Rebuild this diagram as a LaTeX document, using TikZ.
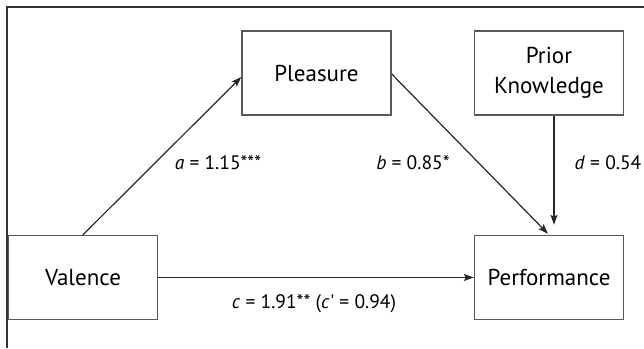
\documentclass[tikz,border=0pt]{standalone}
\usepackage{fontspec}
\setmainfont{PT Sans}
\usetikzlibrary{arrows.meta}
\begin{document}
\begin{tikzpicture}[x=1pt,y=-1pt,
  box/.style={draw=black!65, line width=1.4pt, minimum width=149pt, minimum height=84pt, inner sep=0pt, font=\fontsize{23}{30}\selectfont, align=center, text=black},
  conn/.style={draw=black!85, line width=1.2pt, -{Stealth[length=10pt,width=7pt,inset=2pt]}},
  lbl/.style={font=\fontsize{19.5}{22}\selectfont, text=black, inner sep=0pt},
  frameline/.style={draw=black!80, line width=1.4pt}]
\useasboundingbox (0,0) rectangle (644,348);
\coordinate (fb) at (7,348);
\coordinate (fc) at (7,7);
\coordinate (fr) at (644,7);
\draw[frameline] (fb) -- (fc) -- (fr);

\node[box] (pleasure) at (316.5,73) {Pleasure};
\node[box] (prior) at (549,73) {Prior\\Knowledge};
\node[box] (valence) at (83,277.5) {Valence};
\node[box] (perf) at (549,277.5) {Performance};

\draw[conn] (valence.north) -- ([yshift=-4pt]pleasure.west);
\draw[conn] ([yshift=-1pt]pleasure.east) -- ([xshift=-1pt,yshift=1pt]perf.north);
\draw[conn] ([xshift=5pt]prior.south) -- ([xshift=5pt,yshift=10pt]perf.north);
\draw[conn] (valence.east) -- (perf.west);

\node[lbl] (la) at (218,163) {\textit{a} = 1.15***};
\node[lbl] (lb) at (413,163) {\textit{b} = 0.85*};
\node[lbl] (ld) at (608,163) {\textit{d} = 0.54};
\node[lbl] (lc) at (314,304) {\textit{c} = 1.91** (\textit{c}\kern0.5pt\textquotesingle\ = 0.94)};
\end{tikzpicture}
\end{document}
